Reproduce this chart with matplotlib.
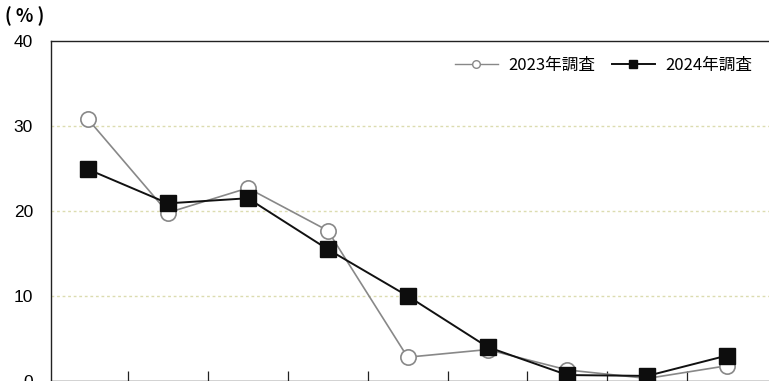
import matplotlib
matplotlib.use("Agg")
import matplotlib.pyplot as plt
from matplotlib.lines import Line2D

# Survey results by category (%)
categories = list(range(9))
survey_2023 = [30.8, 19.8, 22.7, 17.7, 2.8, 3.7, 1.3, 0.3, 1.8]
survey_2024 = [24.9, 20.9, 21.5, 15.5, 10.0, 4.0, 0.7, 0.6, 3.0]
series_labels = ["2023年調査", "2024年調査"]
y_ticks = [0, 10, 20, 30, 40]

W, H = 769, 381
fig = plt.figure(figsize=(W / 100, H / 100), dpi=100)

left_px, right_px, top_px, bottom_px = 51, 772, 41, 381
ax = fig.add_axes([left_px / W, 1 - bottom_px / H,
                   (right_px - left_px) / W, (bottom_px - top_px) / H])

ax.set_xlim(-0.463, 8.56)
ax.set_ylim(0, 40)

# gridlines
for v in y_ticks[1:-1]:
    ax.axhline(v, color="#dcdcb0", lw=1.0, ls=(0, (2, 2)), zorder=0)

ax.plot(categories, survey_2023, color="#888888", lw=1.2, marker="o",
        ms=11, mfc="white", mec="#888888", mew=1.2, zorder=3)
ax.plot(categories, survey_2024, color="#111111", lw=1.4, marker="s",
        ms=11, mfc="#0d0d0d", mec="#0d0d0d", zorder=4)

for s in ax.spines.values():
    s.set_color("#222222")
    s.set_linewidth(1.0)

ax.set_yticks(y_ticks)
ax.set_yticklabels([str(v) for v in y_ticks], fontsize=12.5,
                   family=["Liberation Sans", "DejaVu Sans"])
ax.tick_params(axis="y", length=0, pad=13)
ax.set_xticks([i + 0.5 for i in categories[:-1]])
ax.set_xticklabels([])
ax.tick_params(axis="x", direction="in", length=7, width=0.9, color="#222222")

fig.text(25 / W, 1 - 16 / H, "( % )", ha="center", va="center", fontsize=13,
         fontweight="bold", family=["Noto Sans CJK JP", "DejaVu Sans"])

handles = [
    Line2D([], [], color="#888888", lw=1.0, marker="o", ms=5.5,
           mfc="white", mec="#888888"),
    Line2D([], [], color="#111111", lw=1.4, marker="s", ms=6,
           mfc="#0d0d0d", mec="#0d0d0d"),
]
ax.legend(handles, series_labels, loc="center right",
          bbox_to_anchor=(752 / W, 1 - 65 / H), bbox_transform=fig.transFigure,
          ncol=2, frameon=False, handlelength=2.6, handletextpad=0.6,
          columnspacing=1.0, borderaxespad=0, borderpad=0,
          prop={"family": ["Noto Sans CJK JP", "DejaVu Sans"], "size": 12})

fig.savefig("out.png", dpi=100)
